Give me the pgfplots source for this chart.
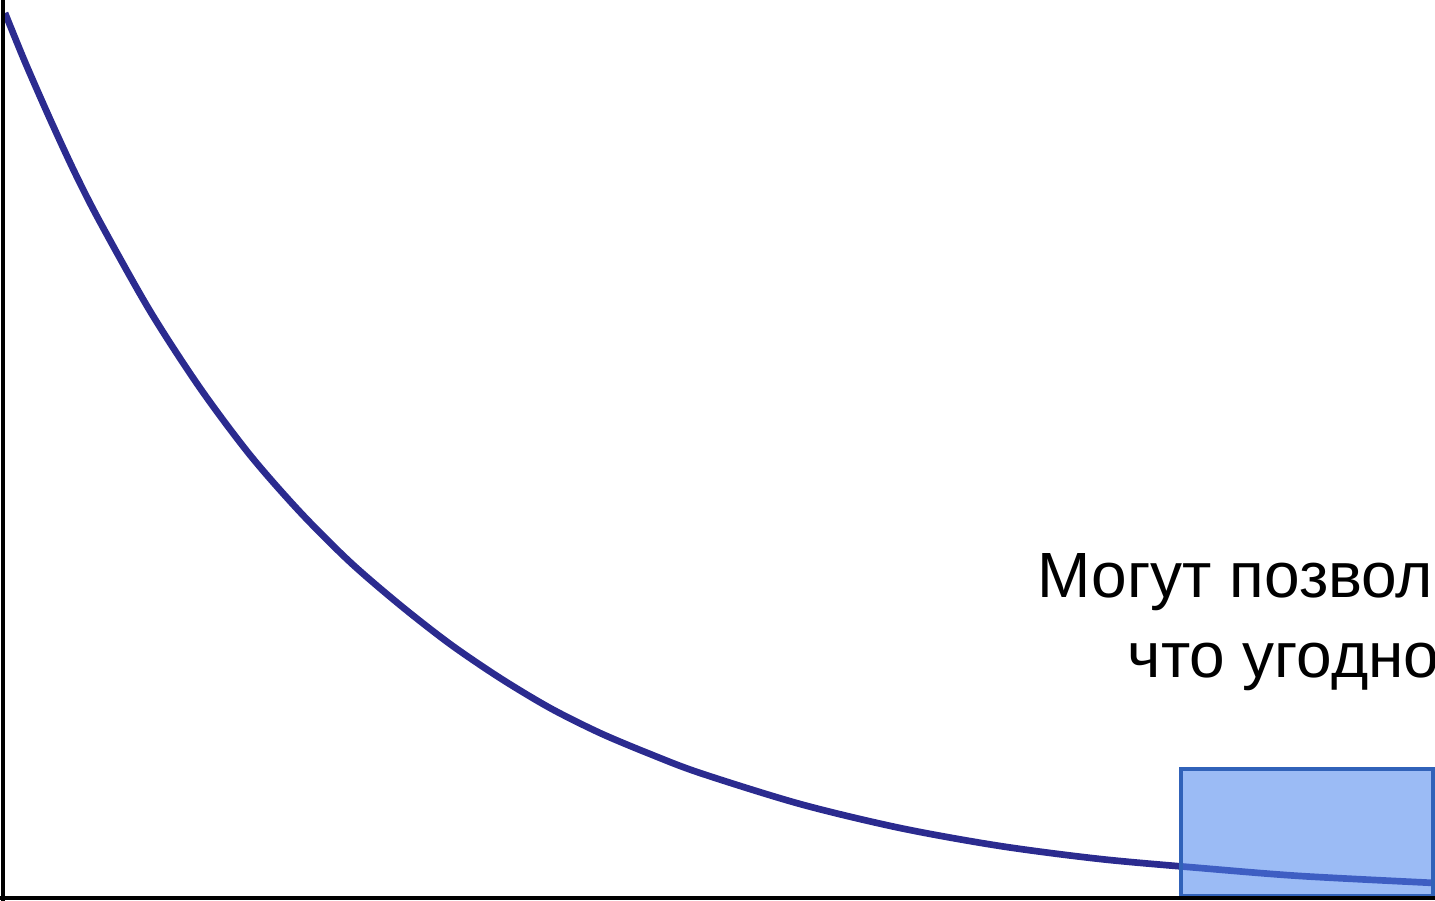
\documentclass[border=0pt]{standalone}
\usepackage{pgfplots}
\pgfplotsset{compat=1.18}
\usepackage{fontspec}
\setmainfont{Liberation Sans}

\definecolor{curveblue}{HTML}{2B2B8F}
\definecolor{boxfill}{HTML}{4D86ED}
\definecolor{boxedge}{HTML}{3162B9}

\begin{document}
\begin{tikzpicture}
\useasboundingbox (0,0) rectangle (14.35cm,9.01cm);
\clip (0,0) rectangle (14.35cm,9.01cm);
\begin{axis}[
    at={(0,0)}, anchor=origin,
    scale only axis,
    width=14.35cm, height=9.01cm,
    xmin=0, xmax=1435,
    ymin=0, ymax=901,
    axis lines=none,
    ticks=none,
    clip=false
]

% decay curve (values in pixel units of the original)
\addplot[curveblue, line width=1.9pt, smooth, mark=none] coordinates {
    (5,888) (25,839) (50,782) (75,728) (100,679) (150,590) (200,513)
    (250,446) (300,389) (350,339) (400,296) (450,257) (500,223)
    (550,193) (600,168) (650,147) (700,128) (800,97) (900,73)
    (1000,55) (1100,42) (1200,33) (1300,25) (1435,18)
};

% highlighted tail
\addplot[draw=boxedge, line width=1.15pt, fill=boxfill, fill opacity=0.56, mark=none] coordinates {
    (1181,5) (1433,5) (1433,132) (1181,132)
} -- cycle;

% axis lines
\draw[black, line width=1.1pt] (axis cs:3,0) -- (axis cs:3,901);
\draw[black, line width=1.1pt] (axis cs:0,3) -- (axis cs:1435,3);

\node[anchor=base west, inner sep=0pt, font=\fontsize{18.2}{22}\selectfont] at (axis cs:1037,303) {Могут позволить себе};
\node[anchor=base west, inner sep=0pt, font=\fontsize{18.2}{22}\selectfont] at (axis cs:1127,223) {что угодно};

\end{axis}
\end{tikzpicture}
\end{document}
